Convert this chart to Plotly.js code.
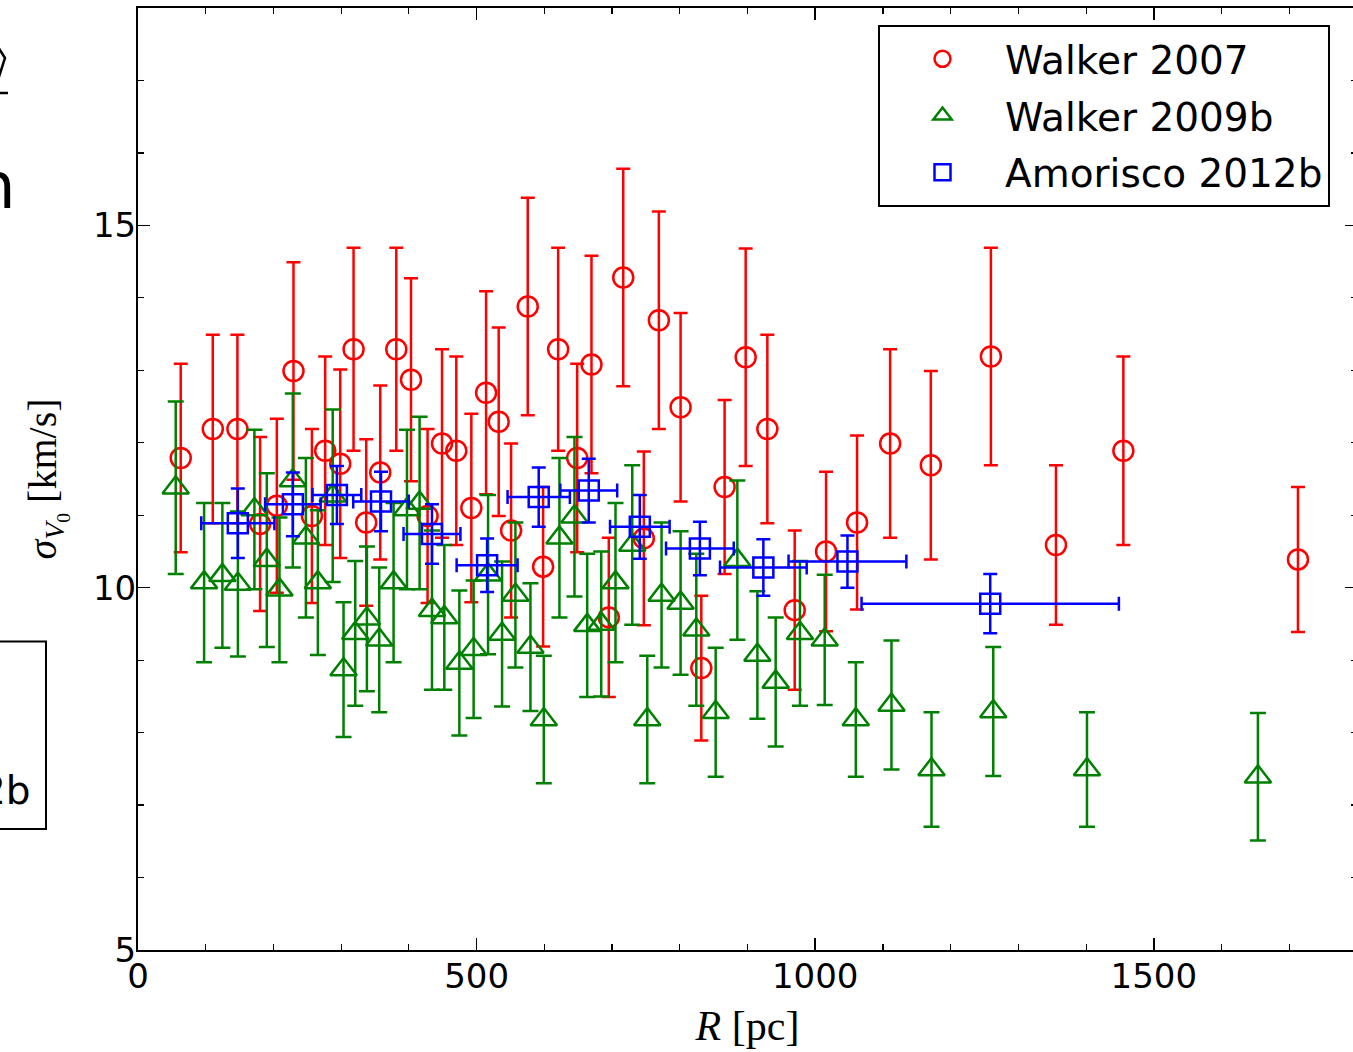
<!DOCTYPE html>
<html>
<head>
<meta charset="utf-8">
<script src="https://cdn.plot.ly/plotly-3.0.1.min.js"></script>
<style>
html, body { margin: 0; padding: 0; overflow: hidden; background: #fff; }
#chart { width: 1357px; height: 1052px; }
</style>
</head>
<body>
<div id="chart"></div>
<script>
// ---- Walker 2007 ----
const w07_R = [63.1,110.4,146.8,180.3,205.0,229.6,256.8,276.4,298.6,318.3,337.0,357.7,381.4,403.1,427.6,448.9,470.0,492.2,514.0,532.6,550.9,575.5,598.2,620.4,648.5,669.6,695.2,716.5,746.9,769.1,801.2,831.8,866.2,897.3,929.3,969.7,1016.0,1061.8,1110.6,1170.7,1259.4,1355.5,1455.0,1712.8];
const w07_sigma = [11.79,12.19,12.19,10.88,11.13,12.99,10.99,11.89,11.71,13.29,10.90,11.59,13.29,12.87,10.99,11.99,11.89,11.10,12.69,12.29,10.79,13.88,10.29,13.29,11.79,13.08,9.59,14.28,10.68,13.69,12.49,8.89,11.39,13.18,12.19,9.69,10.50,10.90,11.99,11.69,13.19,10.59,11.89,10.39];
const w07_err = [1.3,1.3,1.3,1.2,1.2,1.5,1.2,1.3,1.3,1.4,1.15,1.2,1.4,1.4,1.2,1.3,1.3,1.3,1.4,1.3,1.2,1.5,1.1,1.4,1.3,1.5,1.1,1.5,1.2,1.5,1.3,1.0,1.2,1.5,1.3,1.1,1.1,1.2,1.3,1.3,1.5,1.1,1.3,1.0];

// ---- Walker 2009b ----
const w09_R = [55.7,97.6,124.6,147.5,171.9,190.2,208.9,228.6,247.9,265.6,287.5,303.5,320.8,338.0,356.2,377.4,397.2,415.8,434.1,452.3,474.5,495.6,516.9,537.6,557.3,579.5,599.2,622.3,644.5,663.3,684.0,705.1,729.8,752.0,773.1,801.2,824.4,853.0,885.0,914.6,941.6,977.5,1014.0,1059.9,1112.6,1171.7,1262.9,1401.3,1653.7];
const w09_sigma = [11.38,10.07,10.17,10.05,11.08,10.38,9.97,11.48,10.69,10.07,11.27,8.87,9.37,9.57,9.28,10.07,11.08,11.17,9.69,9.59,8.96,9.15,10.18,9.36,9.90,9.18,8.18,10.69,10.98,9.48,9.50,10.07,10.59,8.18,9.90,9.79,9.42,8.28,10.38,9.07,8.70,9.37,9.28,8.18,8.38,7.49,8.29,7.49,7.39];
const w09_err = [1.19,1.1,1.0,1.0,1.1,1.2,1.0,1.2,1.1,1.0,1.19,0.93,1.0,1.0,1.0,1.1,1.1,1.19,1.1,1.0,1.0,0.95,1.1,1.0,1.0,0.88,0.88,1.1,1.1,0.99,1.0,1.1,1.1,0.88,1.0,0.99,1.05,0.89,1.1,0.88,0.89,1.0,0.9,0.79,0.89,0.79,0.89,0.79,0.88];

// ---- Amorisco 2012b ----
const a12_R = [147.4,228.7,293.7,358.8,434.1,515.5,591.7,665.6,741.0,829.7,923.4,1047.6,1258.4];
const a12_Rerr = [54,41,36,41,42,45,46,42,44,50,64,87,190];
const a12_sigma = [10.89,11.15,11.28,11.19,10.74,10.31,11.25,11.34,10.84,10.54,10.28,10.36,9.78];
const a12_err = [0.48,0.44,0.40,0.41,0.41,0.37,0.41,0.44,0.44,0.37,0.39,0.36,0.41];

const seriesNames = ["Walker 2007", "Walker 2009b", "Amorisco 2012b"];
const xTickVals = [0, 500, 1000, 1500];
const yTickVals = [5, 10, 15];

// fragments of the neighbouring panel that were cut into the picture
const leftFragTexts = ["n", "2b"];

const RED = "#ff0000", GREEN = "#008000", BLUE = "#0000ff";

const traces = [
  {
    type: "scatter", mode: "markers", name: seriesNames[0], legendgroup: "a",
    x: w07_R, y: w07_sigma,
    error_y: {type: "data", array: w07_err, visible: true, color: RED, thickness: 2.5, width: 7},
    marker: {symbol: "circle-open", size: 20, color: RED, line: {width: 2.5, color: RED}},
    cliponaxis: false
  },
  {
    type: "scatter", mode: "markers", name: seriesNames[1], legendgroup: "b",
    x: w09_R, y: w09_sigma,
    error_y: {type: "data", array: w09_err, visible: true, color: GREEN, thickness: 2.5, width: 8},
    marker: {symbol: "triangle-up-open", size: 23, color: GREEN, line: {width: 2.5, color: GREEN}}
  },
  {
    type: "scatter", mode: "markers", name: seriesNames[2], legendgroup: "c",
    x: a12_R, y: a12_sigma,
    error_y: {type: "data", array: a12_err, visible: true, color: BLUE, thickness: 2.5, width: 7},
    error_x: {type: "data", array: a12_Rerr, visible: true, color: BLUE, thickness: 2.5, width: 7},
    marker: {symbol: "square-open", size: 20, color: BLUE, line: {width: 2.5, color: BLUE}}
  }
];

const W = 1357, H = 1052, ML = 138, MR = 0, MT = 8, MB = 102;
const PW = W - ML - MR, PH = H - MT - MB;
const px2x = p => (p - ML) / PW;
const py2y = p => (H - MB - p) / PH;

const layout = {
  width: W, height: H,
  margin: {l: ML, r: MR, t: MT, b: MB, pad: 0},
  paper_bgcolor: "#ffffff", plot_bgcolor: "#ffffff",
  showlegend: true,
  legend: {
    x: px2x(878), y: py2y(25), xanchor: "left", yanchor: "top",
    bordercolor: "#000000", borderwidth: 2, bgcolor: "#ffffff",
    font: {family: "DejaVu Sans", size: 39, color: "#000"},
    itemwidth: 115, tracegroupgap: 3, traceorder: "grouped"
  },
  xaxis: {
    range: [0, 1800], tickvals: xTickVals, ticktext: xTickVals.map(String),
    ticks: "inside", ticklen: 12, tickwidth: 1.5, tickcolor: "#000",
    showline: true, linecolor: "#000", linewidth: 2, mirror: "ticks",
    showgrid: false, zeroline: false, ticklabelstandoff: -5,
    tickfont: {family: "DejaVu Sans", size: 34, color: "#000"},
    minor: {dtick: 100, tick0: 0, ticks: "inside", ticklen: 6, tickwidth: 1.2, tickcolor: "#000", showgrid: false},
    title: {text: "<i>R</i> [pc]", font: {family: "Liberation Serif", size: 42, color: "#000"}, standoff: 16}
  },
  yaxis: {
    range: [5, 18], tickvals: yTickVals, ticktext: yTickVals.map(String),
    ticks: "inside", ticklen: 12, tickwidth: 1.5, tickcolor: "#000",
    showline: true, linecolor: "#000", linewidth: 2, mirror: "ticks",
    showgrid: false, zeroline: false, ticklabelstandoff: -7,
    tickfont: {family: "DejaVu Sans", size: 34, color: "#000"},
    minor: {dtick: 1, tick0: 0, ticks: "inside", ticklen: 6, tickwidth: 1.2, tickcolor: "#000", showgrid: false},
    title: {text: "<i>σ</i><sub><i>V</i><sub>0</sub></sub> [km/s]", font: {family: "Liberation Serif", size: 40, color: "#000"}, standoff: 24}
  },
  shapes: [
    {type: "rect", xref: "paper", yref: "paper",
     x0: px2x(-60), x1: px2x(46), y0: py2y(829), y1: py2y(641.5),
     line: {color: "#000", width: 2}, fillcolor: "rgba(0,0,0,0)"},
    {type: "path", xref: "paper", yref: "paper",
     path: "M " + px2x(-2) + " " + py2y(47) + " L " + px2x(5) + " " + py2y(58) + " L " + px2x(-2) + " " + py2y(80),
     line: {color: "#000", width: 2.5}},
    {type: "line", xref: "paper", yref: "paper",
     x0: px2x(-2), x1: px2x(8), y0: py2y(93), y1: py2y(93),
     line: {color: "#000", width: 2.5}}
  ],
  annotations: [
    {xref: "paper", yref: "paper", x: px2x(18), y: py2y(186), xanchor: "right", yanchor: "middle",
     text: leftFragTexts[0], showarrow: false, font: {family: "DejaVu Sans", size: 64, color: "#000"}},
    {xref: "paper", yref: "paper", x: px2x(33), y: py2y(790), xanchor: "right", yanchor: "middle",
     text: leftFragTexts[1], showarrow: false, font: {family: "DejaVu Sans", size: 39, color: "#000"}}
  ]
};

Plotly.newPlot("chart", traces, layout, {displayModeBar: false, staticPlot: true});
</script>
</body>
</html>
